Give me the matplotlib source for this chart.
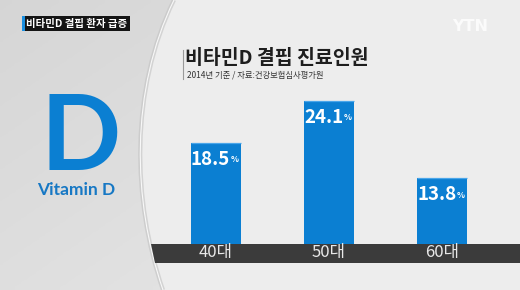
import numpy as np
import matplotlib
matplotlib.use("Agg")
import matplotlib.pyplot as plt
from matplotlib.path import Path
from matplotlib.patches import PathPatch, Polygon, Rectangle

plt.rcParams['font.family'] = ['Noto Sans CJK KR', 'DejaVu Sans']

# data
categories = ['40대', '50대', '60대']
values = [18.5, 24.1, 13.8]
title = '비타민D 결핍 진료인원'
subtitle = '2014년 기준 / 자료:건강보험심사평가원'
tag = '비타민D 결핍 환자 급증'

BLUE = '#0b7fd2'

fig = plt.figure(figsize=(5.2, 2.9), dpi=100)
fig.patch.set_facecolor('#ededed')

# background layer in pixel coords
bg = fig.add_axes([0, 0, 1, 1], zorder=0)
bg.set_xlim(0, 520)
bg.set_ylim(290, 0)
bg.axis('off')

# curved left panel
curve = [(174, 0), (130, 90), (132, 200), (163, 290)]
verts = [(0, 0)] + curve + [(0, 290), (0, 0)]
codes = [Path.MOVETO, Path.LINETO, Path.CURVE4, Path.CURVE4, Path.CURVE4,
         Path.LINETO, Path.CLOSEPOLY]
panel = PathPatch(Path(verts, codes), facecolor='none', edgecolor='none')
bg.add_patch(panel)
gx, gy = np.meshgrid(np.linspace(0, 1, 60), np.linspace(0, 1, 60))
grad = 0.835 + 0.015 * gx + 0.035 * gy
im = bg.imshow(grad, cmap='gray', vmin=0, vmax=1, extent=(0, 180, 290, 0),
               aspect='auto', zorder=1)
im.set_clip_path(panel)
edge = Path(curve, [Path.MOVETO, Path.CURVE4, Path.CURVE4, Path.CURVE4])
bg.add_patch(PathPatch(edge, facecolor='none', edgecolor='#c2c2c2', lw=3, alpha=0.6, zorder=2))
bg.add_patch(PathPatch(edge, facecolor='none', edgecolor='#f8f8f8', lw=0.8, zorder=2))

# top-left tag
bg.add_patch(Rectangle((22, 16), 108, 15, facecolor='#141414', edgecolor='none', zorder=3))
bg.add_patch(Rectangle((22, 16), 3, 15, facecolor='#1a8fe0', edgecolor='none', zorder=4))
bg.text(77, 23.5, tag, color='white', fontsize=7.5, fontweight='bold',
        ha='center', va='center', zorder=5)

# YTN logo
bg.text(470, 26.5, 'YTN', color='#fbfbfb', fontsize=11.5, fontweight='bold',
        family='DejaVu Sans', ha='center', va='center', zorder=3)

# big D
bg.text(81, 140, 'D', color=BLUE, fontsize=76, fontweight='bold', family='Lato',
        ha='center', va='center', zorder=3)
bg.text(76, 190, 'Vitamin D', color='#1778c4', fontsize=12.5, fontweight='bold',
        family='Lato', ha='center', va='center', zorder=3)

# title block
bg.plot([182.7, 182.7], [50, 79], color='#9a9a9a', lw=0.8, zorder=3)
bg.text(185, 58, title, color='#1e1e1e', fontsize=14, fontweight='bold',
        ha='left', va='center', zorder=3)
bg.text(187, 75, subtitle, color='#333333', fontsize=6, ha='left', va='center', zorder=3)

# dark category band
bg.add_patch(Polygon([(151, 244), (520, 244), (520, 262.5), (155, 262.5)],
                     closed=True, facecolor='#3b3b3b', edgecolor='none', zorder=3))

# chart axes
ax = fig.add_axes([150 / 520, (290 - 244) / 290, 370 / 520, (244 - 60) / 290], zorder=2)
ax.patch.set_alpha(0)
x = np.arange(len(categories))
ax.bar(x, values, width=0.44, color=BLUE, edgecolor='none')
ax.hlines(values, x - 0.22, x + 0.22, color='#4aa6ea', lw=0.9)
ax.set_xlim(-0.58, 2.69)
ax.set_ylim(5, 29.5)
ax.set_xticks(x)
ax.set_xticklabels(categories, color='#e8e8e8', fontsize=12)
ax.tick_params(axis='x', length=0, pad=0)
ax.set_yticks([])
for s in ax.spines.values():
    s.set_visible(False)

for i, v in enumerate(values):
    ax.annotate(f'{v}', xy=(i, v), xytext=(10.5, -12), textcoords='offset points',
                ha='right', va='center', color='white', fontsize=13.5, fontweight='bold')
    ax.annotate('%', xy=(i, v), xytext=(10.8, -12.5), textcoords='offset points',
                ha='left', va='center', color='white', fontsize=6, fontweight='bold')

fig.savefig('out.png', dpi=100, facecolor=fig.get_facecolor())
